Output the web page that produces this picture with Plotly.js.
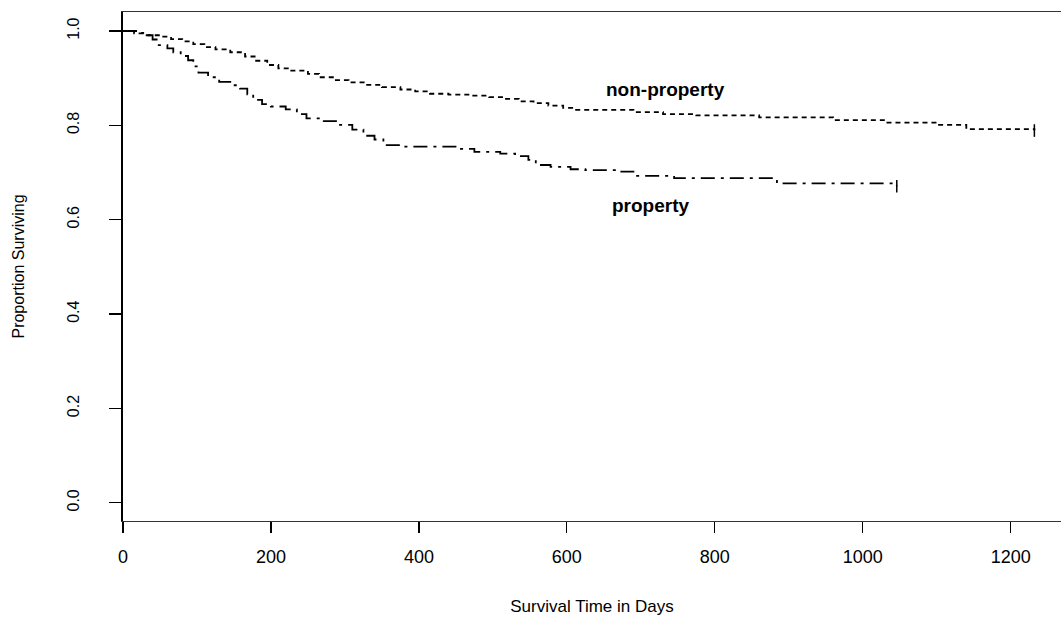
<!DOCTYPE html>
<html>
<head>
<meta charset="utf-8">
<script src="https://cdn.plot.ly/plotly-3.0.1.min.js"></script>
<style>html,body{margin:0;padding:0;background:#fff;}#chart{width:1061px;height:619px;}</style>
</head>
<body>
<div id="chart"></div>
<script>
// Non-property group: Kaplan-Meier step estimate
const nonPropDays = [0,15,30,50,65,80,95,110,125,145,165,180,195,210,225,250,265,285,305,330,350,375,395,415,440,470,495,515,535,555,575,595,610,690,730,775,860,960,1030,1100,1140,1232];
const nonPropSurv = [1.000,0.995,0.991,0.988,0.983,0.978,0.972,0.966,0.961,0.955,0.946,0.937,0.928,0.921,0.916,0.909,0.902,0.896,0.891,0.886,0.881,0.876,0.872,0.867,0.865,0.863,0.860,0.856,0.851,0.847,0.842,0.837,0.833,0.828,0.824,0.821,0.817,0.811,0.806,0.801,0.792,0.789];

// Property group
const propDays = [0,20,30,40,47,60,68,78,88,95,102,115,130,145,158,168,176,188,200,220,235,248,270,292,310,325,340,352,380,455,475,510,530,548,558,578,605,625,670,690,745,884,1046];
const propSurv = [1.000,0.996,0.991,0.982,0.970,0.963,0.955,0.947,0.938,0.925,0.912,0.902,0.892,0.885,0.878,0.866,0.854,0.845,0.840,0.834,0.824,0.815,0.809,0.801,0.791,0.778,0.770,0.758,0.755,0.750,0.744,0.740,0.735,0.727,0.716,0.712,0.707,0.705,0.702,0.693,0.688,0.677,0.671];

const xTicks = [0,200,400,600,800,1000,1200];
const yTicks = [0.0,0.2,0.4,0.6,0.8,1.0];
const yTickText = ["0.0","0.2","0.4","0.6","0.8","1.0"];

const groupLabels = ["non-property","property"];
const labelX = [734, 714];
const labelY = [0.877, 0.631];

const FONT = "Liberation Sans, Arial, Helvetica, sans-serif";

const traces = [
  {x: nonPropDays, y: nonPropSurv, type:'scatter', mode:'lines', line:{shape:'hv', color:'#000', width:1.8, dash:'5px,4px'}, hoverinfo:'skip'},
  {x: propDays, y: propSurv, type:'scatter', mode:'lines', line:{shape:'hv', color:'#000', width:1.8, dash:'14px,6px,3px,6px'}, hoverinfo:'skip'},
  {x: [nonPropDays[nonPropDays.length-1], propDays[propDays.length-1]],
   y: [nonPropSurv[nonPropSurv.length-1], propSurv[propSurv.length-1]],
   type:'scatter', mode:'markers', marker:{symbol:'line-ns-open', size:9, color:'#000', line:{color:'#000', width:1.5}}, hoverinfo:'skip'}
];

const layout = {
  width:1061, height:619,
  margin:{l:123, r:0, t:12, b:98},
  paper_bgcolor:'#fff', plot_bgcolor:'#fff',
  showlegend:false,
  font:{family:FONT, color:'#000'},
  xaxis:{
    range:[0,1268], tickvals:xTicks, ticks:'outside', ticklen:11, tickwidth:1.3, tickcolor:'#000',
    showline:true, linecolor:'#333', linewidth:1, mirror:true,
    showgrid:false, zeroline:false, tickfont:{size:18, family:FONT},
    ticklabelstandoff:8,
    title:{text:'Survival Time in Days', font:{size:17, family:FONT}, standoff:34}
  },
  yaxis:{
    range:[-0.0386,1.0403], tickvals:yTicks, ticktext:yTickText, ticks:'outside', ticklen:12, tickwidth:1.3, tickcolor:'#000',
    showline:true, linecolor:'#000', linewidth:1.8,
    showgrid:false, zeroline:false, tickfont:{size:16, family:FONT}, tickangle:-90,
    ticklabelstandoff:24,
    title:{text:'Proportion Surviving', font:{size:16, family:FONT}, standoff:36}
  },
  annotations: groupLabels.map((t,i)=>({x:labelX[i], y:labelY[i], xref:'x', yref:'y', text:'<b>'+t+'</b>', showarrow:false, font:{size:19, family:FONT, color:'#000'}}))
};

Plotly.newPlot('chart', traces, layout, {staticPlot:true, displayModeBar:false});
</script>
</body>
</html>
